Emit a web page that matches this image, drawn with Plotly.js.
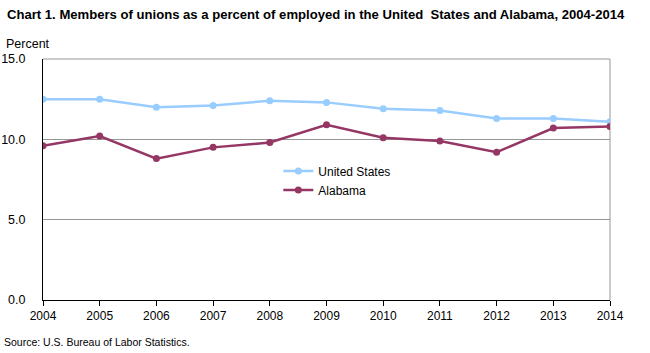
<!DOCTYPE html>
<html><head><meta charset="utf-8">
<script src="https://cdn.plot.ly/plotly-3.0.1.min.js"></script>
<style>body{margin:0;background:#fff}#chart{width:650px;height:353px}</style>
</head><body><div id="chart"></div>
<script>
const years = [2004,2005,2006,2007,2008,2009,2010,2011,2012,2013,2014];
const unitedStates = [12.5,12.5,12.0,12.1,12.4,12.3,11.9,11.8,11.3,11.3,11.1];
const alabama = [9.6,10.2,8.8,9.5,9.8,10.9,10.1,9.9,9.2,10.7,10.8];
const yTicks = [0,5,10,15];
const yTickText = ['0.0','5.0','10.0','15.0'];

const font = 'Liberation Sans, Arial, sans-serif';
const traces = [
  {x: years, y: unitedStates, name: 'United States', type: 'scatter', mode: 'lines+markers',
   line: {color: '#99CCFF', width: 2.5}, marker: {color: '#99CCFF', size: 7}},
  {x: years, y: alabama, name: 'Alabama', type: 'scatter', mode: 'lines+markers',
   line: {color: '#953764', width: 2.5}, marker: {color: '#953764', size: 7}}
];
const layout = {
  width: 650, height: 353,
  margin: {l: 43, r: 40, t: 59, b: 53},
  paper_bgcolor: '#fff', plot_bgcolor: '#fff',
  font: {family: font, size: 12, color: '#000'},
  showlegend: true,
  legend: {x: 0.415, y: 0.595, xanchor: 'left', yanchor: 'top', bgcolor: 'rgba(0,0,0,0)',
           font: {family: font, size: 12, color: '#000'}, tracegroupgap: 0, itemwidth: 30},
  xaxis: {range: [2004, 2014], tickvals: years, ticks: 'outside', ticklen: 5, tickcolor: '#000',
          showline: true, linecolor: '#000', linewidth: 1, showgrid: false, zeroline: false,
          tickfont: {family: font, size: 12}, fixedrange: true},
  yaxis: {range: [0, 15], tickvals: yTicks, ticktext: yTickText, ticks: '',
          showline: true, linecolor: '#000', linewidth: 1, showgrid: true, gridcolor: '#969696',
          zeroline: false, ticklabelstandoff: 14, tickfont: {family: font, size: 12.5}, fixedrange: true},
  shapes: [
    {type: 'line', xref: 'paper', yref: 'paper', x0: 0, x1: 1, y0: 1, y1: 1, line: {color: '#969696', width: 1}, layer: 'below'},
    {type: 'line', xref: 'paper', yref: 'paper', x0: 1, x1: 1, y0: 0, y1: 1, line: {color: '#969696', width: 1}, layer: 'below'}
  ],
  annotations: [
    {text: '<b>Chart 1. Members of unions as a percent of employed in the United  States and Alabama, 2004-2014</b>',
     xref: 'paper', yref: 'paper', x: -38/567, y: 1 + 45/241, xanchor: 'left', yanchor: 'middle',
     showarrow: false, font: {family: font, size: 13.1, color: '#000'}},
    {text: 'Percent', xref: 'paper', yref: 'paper', x: -39/567, y: 1 + 15/241, xanchor: 'left', yanchor: 'middle',
     showarrow: false, font: {family: font, size: 12.5, color: '#000'}},
    {text: 'Source: U.S. Bureau of Labor Statistics.', xref: 'paper', yref: 'paper', x: -41/567, y: -42/241,
     xanchor: 'left', yanchor: 'middle', showarrow: false, font: {family: font, size: 10.5, color: '#000'}}
  ]
};
Plotly.newPlot('chart', traces, layout, {displayModeBar: false, staticPlot: true});
</script></body></html>
